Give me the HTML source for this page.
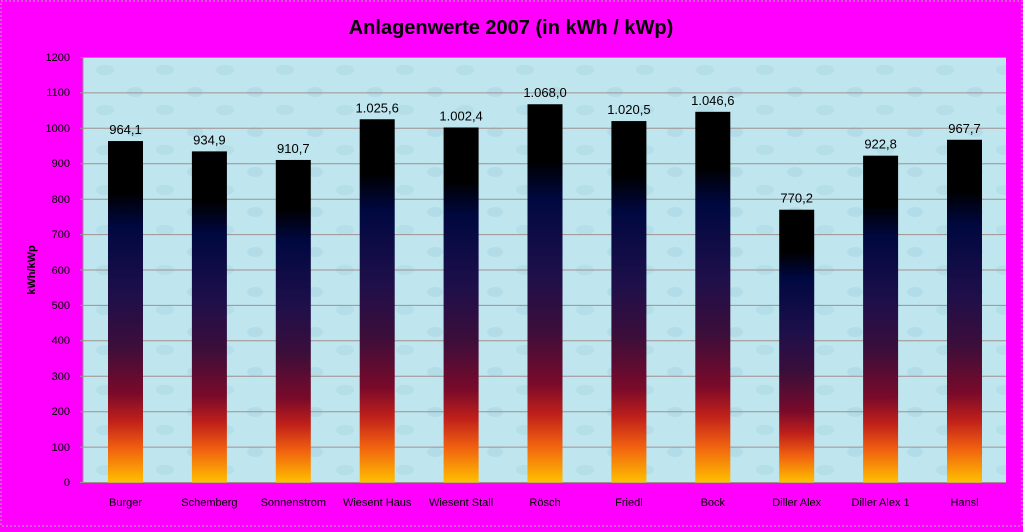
<!DOCTYPE html>
<html><head><meta charset="utf-8"><style>
body{margin:0;width:1023px;height:527px;background:#ff00ff;font-family:"Liberation Sans",sans-serif;overflow:hidden}
</style></head><body>
<svg width="1023" height="527" xmlns="http://www.w3.org/2000/svg">
<defs>
<linearGradient id="g" x1="0" y1="0" x2="0" y2="1">
<stop offset="0" stop-color="#000"/>
<stop offset="0.15" stop-color="#000"/>
<stop offset="0.25" stop-color="#000840"/>
<stop offset="0.45" stop-color="#1e0f4a"/>
<stop offset="0.6" stop-color="#3c0e3a"/>
<stop offset="0.74" stop-color="#7a0a2a"/>
<stop offset="0.82" stop-color="#c0201a"/>
<stop offset="0.9" stop-color="#f06010"/>
<stop offset="1" stop-color="#ffc000"/>
</linearGradient>
<pattern id="p" width="60" height="40" patternUnits="userSpaceOnUse">
<rect width="60" height="40" fill="#bfe5ee"/>
<ellipse cx="15" cy="12" rx="8" ry="5" fill="#b2dde8"/>
<ellipse cx="45" cy="30" rx="9" ry="5" fill="#b4dee8"/>
</pattern>
</defs>
<rect x="1" y="1" width="1021" height="525" fill="none" stroke="#b0b0b0" stroke-dasharray="2,2"/>
<text x="511" y="34" text-anchor="middle" font-size="20" font-weight="bold">Anlagenwerte 2007 (in kWh / kWp)</text>
<rect x="83" y="57" width="923" height="425" fill="url(#p)"/>
<g stroke="#a09090" stroke-width="1">
<line x1="80" x2="1006" y1="57.5" y2="57.5"/><line x1="80" x2="1006" y1="92.9" y2="92.9"/><line x1="80" x2="1006" y1="128.3" y2="128.3"/><line x1="80" x2="1006" y1="163.7" y2="163.7"/><line x1="80" x2="1006" y1="199.2" y2="199.2"/><line x1="80" x2="1006" y1="234.6" y2="234.6"/><line x1="80" x2="1006" y1="270" y2="270"/><line x1="80" x2="1006" y1="305.4" y2="305.4"/><line x1="80" x2="1006" y1="340.8" y2="340.8"/><line x1="80" x2="1006" y1="376.2" y2="376.2"/><line x1="80" x2="1006" y1="411.7" y2="411.7"/><line x1="80" x2="1006" y1="447.1" y2="447.1"/><line x1="80" x2="1006" y1="482.5" y2="482.5"/>
<line x1="83" x2="83" y1="57" y2="482"/>
</g>
<g font-size="11" text-anchor="end" fill="#000">
<text x="70" y="61">1200</text><text x="70" y="96">1100</text><text x="70" y="132">1000</text><text x="70" y="167">900</text><text x="70" y="203">800</text><text x="70" y="238">700</text><text x="70" y="274">600</text><text x="70" y="309">500</text><text x="70" y="344">400</text><text x="70" y="380">300</text><text x="70" y="415">200</text><text x="70" y="451">100</text><text x="70" y="486">0</text>
</g>
<text transform="translate(35,270) rotate(-90)" text-anchor="middle" font-size="11" font-weight="bold">kWh/kWp</text>
<g id="bars" font-size="13" text-anchor="middle"></g>
<g id="labs" font-size="11" text-anchor="middle"></g>
</svg>
<script>
var d=[["Burger",964.1,"964,1"],["Schemberg",934.9,"934,9"],["Sonnenstrom",910.7,"910,7"],["Wiesent Haus",1025.6,"1.025,6"],["Wiesent Stall",1002.4,"1.002,4"],["Rösch",1068.0,"1.068,0"],["Friedl",1020.5,"1.020,5"],["Bock",1046.6,"1.046,6"],["Diller Alex",770.2,"770,2"],["Diller Alex 1",922.8,"922,8"],["Hansl",967.7,"967,7"]];
var b=document.getElementById("bars"),l=document.getElementById("labs"),h="",h2="";
d.forEach(function(e,i){var cx=125.5+83.9*i,y=482.5-e[1]*0.35417;
h+='<rect x="'+(cx-17.5)+'" y="'+y+'" width="35" height="'+(482.5-y)+'" fill="url(#g)"/><text x="'+cx+'" y="'+(y-7)+'">'+e[2]+'</text>';
h2+='<text x="'+cx+'" y="506">'+e[0]+'</text>';});
b.innerHTML=h;l.innerHTML=h2;
</script>
</body></html>
